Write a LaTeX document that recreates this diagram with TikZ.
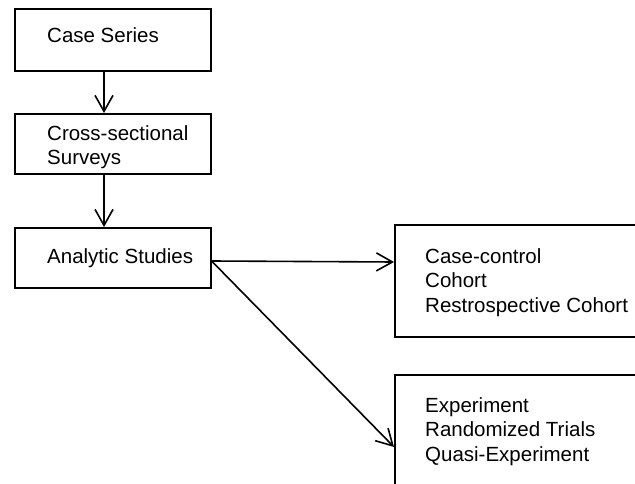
\documentclass[tikz,border=0pt]{standalone}
\usepackage{fontspec}
\setmainfont{Liberation Sans}
\usetikzlibrary{arrows.meta}
\begin{document}
\begin{tikzpicture}[x=1pt,y=-1pt,
  box/.style={draw,line width=1.6pt,rectangle,inner sep=0pt},
  lbl/.style={anchor=base west,inner sep=0pt,font=\fontsize{20.5}{24.5}\selectfont,align=left},
  arr/.style={line width=1.6pt,-{Straight Barb[length=16pt,width=18pt,line width=1.6pt]}}]
\useasboundingbox[fill=white] (0,0) rectangle (635,484);
% boxes
\node[box,minimum width=196pt,minimum height=62pt,anchor=north west] (b1) at (14,8) {};
\node[box,minimum width=196pt,minimum height=60pt,anchor=north west] (b2) at (14,113) {};
\node[box,minimum width=196pt,minimum height=60pt,anchor=north west] (b3) at (14,227) {};
\node[box,minimum width=260pt,minimum height=112pt,anchor=north west] (r1) at (394,224) {};
\node[box,minimum width=260pt,minimum height=130pt,anchor=north west] (r2) at (394,374) {};
% labels (base = last line)
\node[lbl] (t1) at (47,43) {Case Series};
\node[lbl] (t2) at (47,165) {Cross-sectional\\Surveys};
\node[lbl] (t3) at (47,263) {Analytic Studies};
\node[lbl] (t4) at (425,312) {Case-control\\Cohort\\Restrospective Cohort};
\node[lbl] (t5) at (425,461) {Experiment\\Randomized Trials\\Quasi-Experiment};
% connectors
\draw[arr] (b1.south -| 104,0) -- (b2.north -| 104,0);
\draw[arr] (b2.south -| 104,0) -- (b3.north -| 104,0);
\coordinate (s) at (b3.east |- 0,261);
\draw[arr] (s) -- (r1.west |- 0,262);
\draw[arr] (s) -- (r2.west |- 0,447);
\end{tikzpicture}
\end{document}
